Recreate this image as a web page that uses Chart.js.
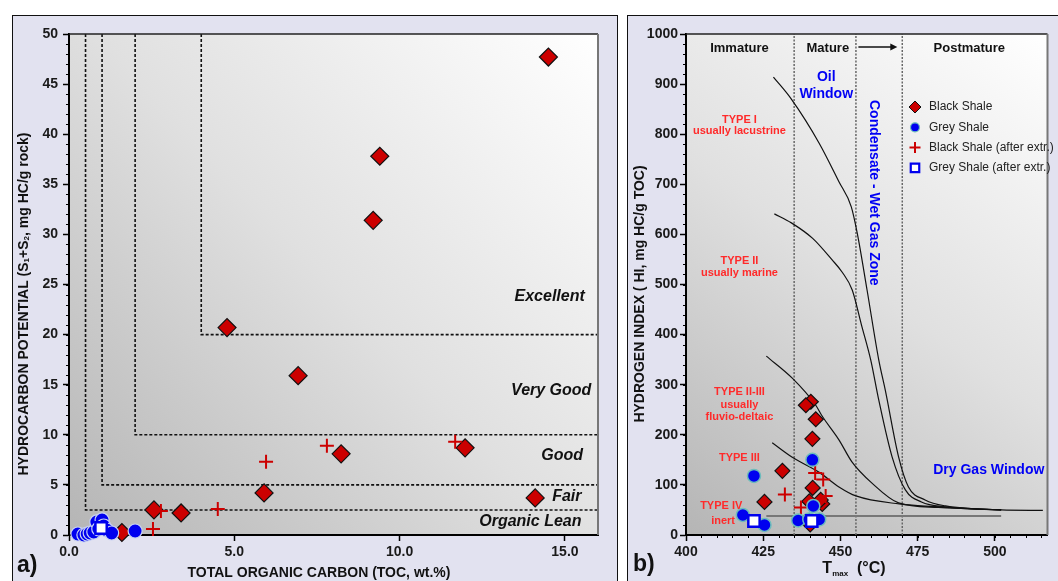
<!DOCTYPE html>
<html>
<head>
<meta charset="utf-8">
<script src="https://cdn.jsdelivr.net/npm/chart.js@4.4.1/dist/chart.umd.min.js"></script>
<style>
html, body { margin: 0; padding: 0; background: #fff; overflow: hidden; }
#pa { position: absolute; left: 12px; top: 15px; }
#pb { position: absolute; left: 627px; top: 15px; }
</style>
</head>
<body>
<canvas id="pa" width="606" height="566" style="width:606px;height:566px"></canvas>
<canvas id="pb" width="431" height="566" style="width:431px;height:566px"></canvas>
<script>
// ---------- panel a) : TOC vs S1+S2 ----------
const tocRange = [0, 16];
const potRange = [0, 50];
const blackToc = [14.5, 9.4, 9.2, 4.78, 6.93, 11.98, 8.23, 5.9, 14.1, 2.57, 3.39, 1.6];
const blackPot = [47.7, 37.8, 31.4, 20.7, 15.9, 8.7, 8.1, 4.2, 3.7, 2.5, 2.2, 0.25];
const blackExtrToc = [11.68, 7.8, 5.96, 4.5, 2.78, 2.54];
const blackExtrPot = [9.3, 8.9, 7.3, 2.6, 2.4, 0.6];
const greyToc = [0.27, 0.45, 0.55, 0.64, 0.75, 0.84, 0.9, 1.0, 1.05, 1.14, 1.29, 2.0];
const greyPot = [0.1, 0.0, 0.1, 0.2, 0.3, 1.3, 0.6, 1.5, 0.9, 0.5, 0.2, 0.4];
const greyExtrToc = [0.97];
const greyExtrPot = [0.7];
// classification limits (TOC, S1+S2)
const classToc = [0.5, 1, 2, 4];
const classPot = [2.5, 5, 10, 20];

// ---------- panel b) : Tmax vs HI ----------
const tmaxRange = [400, 517];
const hiRange = [0, 1000];
const blackTmax = [440.4, 438.8, 442.0, 440.9, 431.2, 441.0, 425.4, 439.9, 444.1, 443.6, 440.2];
const blackHi = [266, 259, 231, 192, 128, 94, 66, 67, 62, 70, 21];
const blackExtrTmax = [441.8, 444.4, 432.0, 445.2, 437.2];
const blackExtrHi = [124, 111, 81, 78, 55];
const greyTmax = [422.0, 440.9, 418.4, 425.4, 436.3, 439.9, 443.1, 441.2];
const greyHi = [118, 150, 40, 20, 29, 31, 31, 58];
const greyExtrTmax = [422.0, 440.7];
const greyExtrHi = [28, 28];
const maturityTmax = [435, 455, 470];
// kerogen type evolution curves [Tmax, HI]
const typeICurve = [[428.3, 914], [434.1, 870], [443.1, 782], [449.5, 705], [453.5, 655], [455.5, 600],
  [458.6, 489], [462.4, 349], [464.5, 289], [468.8, 156], [472, 96], [477.4, 70], [484, 58], [502, 50], [515.5, 49]];
const typeIICurve = [[428.6, 641], [434.1, 623], [441, 592], [447.3, 549], [450.5, 525], [453.8, 489],
  [456.8, 419], [459.8, 349], [462.4, 269], [466.7, 156], [471, 90], [476.2, 66], [484, 56], [502, 50]];
const typeIIIIICurve = [[426, 357], [434.4, 313], [442, 259], [444, 238], [449.5, 190], [453.7, 146],
  [460.1, 104], [468.8, 64], [481.7, 55], [502, 50]];
const typeIIICurve = [[427.9, 184], [434.4, 155], [443.1, 125], [449.5, 96], [455, 78], [469, 62], [482, 56], [502, 50]];
const typeIVLine = [[426, 38], [502, 38]];

const legendLabels = ['Black Shale', 'Grey Shale', 'Black Shale (after extr.)', 'Grey Shale (after extr.)'];

const FONT = "'Liberation Sans', Arial, sans-serif";
const toPts = (xs, ys) => xs.map((x, i) => ({ x: x, y: ys[i] }));
const pairPts = arr => arr.map(p => ({ x: p[0], y: p[1] }));

// background, frame and plot-area gradient
const plotBg = {
  id: 'plotBg',
  beforeDraw(chart) {
    const { ctx, chartArea: a, width, height } = chart;
    ctx.save();
    ctx.fillStyle = '#e2e2f0';
    ctx.fillRect(0, 0, width, height);
    ctx.strokeStyle = '#111';
    ctx.lineWidth = 1;
    ctx.strokeRect(0.5, 0.5, width + (chart.canvas.id === 'pb' ? 20 : -1), height + 20);
    const g = ctx.createLinearGradient(a.left, a.bottom, a.right, a.top);
    g.addColorStop(0, '#b5b5b5');
    g.addColorStop(0.5, '#e0e0e0');
    g.addColorStop(1, '#ffffff');
    ctx.fillStyle = g;
    ctx.fillRect(a.left, a.top, a.right - a.left, a.bottom - a.top);
    ctx.restore();
  },
  afterDraw(chart) {
    const { ctx, chartArea: a } = chart;
    ctx.save();
    ctx.strokeStyle = '#222';
    ctx.lineWidth = 1.5;
    ctx.beginPath(); ctx.moveTo(a.left, a.top); ctx.lineTo(a.right, a.top); ctx.stroke();
    ctx.strokeStyle = '#777';
    ctx.lineWidth = 2;
    ctx.beginPath(); ctx.moveTo(a.right, a.top); ctx.lineTo(a.right, a.bottom); ctx.stroke();
    ctx.restore();
  }
};

// short minor ticks
const minorTicks = {
  id: 'minorTicks',
  afterDraw(chart, args, opts) {
    const { ctx, chartArea: a } = chart;
    ctx.save();
    ctx.strokeStyle = '#000';
    ctx.lineWidth = 1;
    ['x', 'y'].forEach(id => {
      const step = opts[id];
      if (!step) return;
      const s = chart.scales[id];
      for (let v = s.min; v <= s.max + 1e-9; v += step) {
        const p = Math.round(s.getPixelForValue(v)) + 0.5;
        ctx.beginPath();
        if (id === 'y') { ctx.moveTo(a.left - 3, p); ctx.lineTo(a.left, p); }
        else { ctx.moveTo(p, a.bottom); ctx.lineTo(p, a.bottom + 3); }
        ctx.stroke();
      }
    });
    ctx.restore();
  }
};

// free text labels (data or pixel coordinates), with optional sub parts
const texts = {
  id: 'texts',
  afterDraw(chart, args, opts) {
    const ctx = chart.ctx;
    (opts.items || []).forEach(it => {
      const cx = it.px ? it.x : chart.scales.x.getPixelForValue(it.x);
      const cy = it.px ? it.y : chart.scales.y.getPixelForValue(it.y);
      const parts = it.parts || [{ t: it.text, font: it.font }];
      ctx.save();
      ctx.translate(cx, cy);
      ctx.rotate(it.rot || 0);
      ctx.fillStyle = it.color || '#111';
      ctx.textBaseline = 'middle';
      ctx.textAlign = 'left';
      let total = 0;
      const ws = parts.map(p => { ctx.font = p.font; const w = ctx.measureText(p.t).width; total += w; return w; });
      let x = it.align === 'left' ? 0 : it.align === 'right' ? -total : -total / 2;
      parts.forEach((p, i) => { ctx.font = p.font; ctx.fillText(p.t, x, p.dy || 0); x += ws[i]; });
      ctx.restore();
    });
    (opts.arrows || []).forEach(ar => {
      const x1 = chart.scales.x.getPixelForValue(ar[0]), x2 = chart.scales.x.getPixelForValue(ar[1]);
      const y = chart.scales.y.getPixelForValue(ar[2]);
      ctx.save();
      ctx.strokeStyle = '#111'; ctx.fillStyle = '#111'; ctx.lineWidth = 1.5;
      ctx.beginPath(); ctx.moveTo(x1, y); ctx.lineTo(x2 - 6, y); ctx.stroke();
      ctx.beginPath(); ctx.moveTo(x2, y); ctx.lineTo(x2 - 7, y - 3.5); ctx.lineTo(x2 - 7, y + 3.5); ctx.closePath(); ctx.fill();
      ctx.restore();
    });
  }
};

// legend drawn inside plot of panel b
const innerLegend = {
  id: 'innerLegend',
  afterDraw(chart, args, opts) {
    if (!opts.rows) return;
    const ctx = chart.ctx;
    opts.rows.forEach((r, i) => {
      const y = opts.y + i * opts.gap;
      ctx.save();
      ctx.fillStyle = r.fill; ctx.strokeStyle = r.stroke; ctx.lineWidth = r.bw;
      Chart.helpers.drawPoint(ctx, { pointStyle: r.style, radius: r.radius, borderWidth: r.bw, rotation: 0 }, opts.x, y);
      ctx.fillStyle = '#222';
      ctx.font = '12px ' + FONT;
      ctx.textBaseline = 'middle';
      ctx.fillText(r.label, opts.x + 14, y);
      ctx.restore();
    });
  }
};

const tickFont = { family: FONT, weight: 'bold', size: 14 };

function lineSet(points, opts) {
  return Object.assign({
    data: points, showLine: true, pointRadius: 0, borderColor: '#111', borderWidth: 1.2,
    fill: false, cubicInterpolationMode: 'monotone'
  }, opts);
}

// ---------- chart a ----------
const classLines = classToc.map((t, i) => lineSet(
  [{ x: t, y: potRange[1] }, { x: t, y: classPot[i] }, { x: tocRange[1], y: classPot[i] }],
  { borderDash: [3, 2], borderWidth: 1.6, borderColor: '#111', cubicInterpolationMode: 'default', tension: 0 }));

const italicBig = 'italic bold 16px ' + FONT;
new Chart(document.getElementById('pa'), {
  type: 'scatter',
  data: {
    datasets: [
      { data: toPts(greyExtrToc, greyExtrPot), pointStyle: 'rect', pointRadius: 8, backgroundColor: '#fff', borderColor: '#0000ee', borderWidth: 2.5, clip: false },
      { data: toPts(greyToc, greyPot), pointStyle: 'circle', pointRadius: 7, backgroundColor: '#0000f0', borderColor: '#c8d2f2', borderWidth: 1.2, clip: false },
      { data: toPts(blackExtrToc, blackExtrPot), pointStyle: 'cross', pointRadius: 7, borderColor: '#cc0000', borderWidth: 2, clip: false },
      { data: toPts(blackToc, blackPot), pointStyle: 'rectRot', pointRadius: 9, backgroundColor: '#cc0000', borderColor: '#111', borderWidth: 1.2, clip: false },
      ...classLines
    ]
  },
  options: {
    responsive: false,
    animation: false,
    layout: { padding: { left: 0, top: 19, right: 20, bottom: 0 } },
    plugins: {
      legend: { display: false },
      tooltip: { enabled: false },
      minorTicks: { y: 1 },
      texts: {
        items: [
          { text: 'Excellent', x: 15.6, y: 23.75, font: italicBig, align: 'right' },
          { text: 'Very Good', x: 15.8, y: 14.4, font: italicBig, align: 'right' },
          { text: 'Good', x: 15.55, y: 7.9, font: italicBig, align: 'right' },
          { text: 'Fair', x: 15.5, y: 3.8, font: italicBig, align: 'right' },
          { text: 'Organic Lean', x: 15.5, y: 1.3, font: italicBig, align: 'right' },
          { text: 'a)', px: true, x: 5, y: 551, font: 'bold 23px ' + FONT, align: 'left' },
          { text: 'TOTAL ORGANIC CARBON (TOC, wt.%)', px: true, x: 307, y: 558, font: 'bold 14px ' + FONT },
          { px: true, x: 12, y: 289, rot: -Math.PI / 2, parts: [
            { t: 'HYDROCARBON POTENTIAL (S', font: 'bold 14px ' + FONT },
            { t: '1', font: 'bold 8px ' + FONT, dy: 3 },
            { t: '+S', font: 'bold 14px ' + FONT },
            { t: '2', font: 'bold 8px ' + FONT, dy: 3 },
            { t: ', mg HC/g rock)', font: 'bold 14px ' + FONT }
          ] }
        ]
      }
    },
    scales: {
      x: {
        type: 'linear', min: tocRange[0], max: tocRange[1],
        afterFit: s => { s.height = 46; },
        border: { color: '#000', width: 2 },
        grid: { drawOnChartArea: false, tickLength: 6, tickColor: '#000', tickWidth: 1.5 },
        ticks: { stepSize: 5, includeBounds: false, autoSkip: false, padding: 3, color: '#1a1a1a', font: tickFont,
          callback: v => v.toFixed(1) }
      },
      y: {
        type: 'linear', min: potRange[0], max: potRange[1],
        afterFit: s => { s.width = 57; },
        border: { color: '#000', width: 2 },
        grid: { drawOnChartArea: false, tickLength: 6, tickColor: '#000', tickWidth: 1.5 },
        ticks: { stepSize: 5, autoSkip: false, padding: 5, color: '#1a1a1a', font: tickFont }
      }
    }
  },
  plugins: [plotBg, minorTicks, texts]
});

// ---------- chart b ----------
const maturityLines = maturityTmax.map(t => lineSet(
  [{ x: t, y: hiRange[0] }, { x: t, y: hiRange[1] }],
  { borderDash: [2, 1.5], borderWidth: 1.5, borderColor: '#666', cubicInterpolationMode: 'default', tension: 0 }));

const redF = 'bold 11px ' + FONT;
const blueF = 'bold 14px ' + FONT;
const headF = 'bold 13px ' + FONT;
const RED = '#ff2a2a', BLUE = '#0000f5';
new Chart(document.getElementById('pb'), {
  type: 'scatter',
  data: {
    datasets: [
      { data: toPts(greyExtrTmax, greyExtrHi), pointStyle: 'rect', pointRadius: 8, backgroundColor: '#fff', borderColor: '#0000ee', borderWidth: 2.5, clip: false },
      { data: toPts(greyTmax, greyHi), pointStyle: 'circle', pointRadius: 6.5, backgroundColor: '#0000f0', borderColor: '#6cbcbc', borderWidth: 1.5, clip: false },
      { data: toPts(blackExtrTmax, blackExtrHi), pointStyle: 'cross', pointRadius: 7, borderColor: '#cc0000', borderWidth: 2, clip: false },
      { data: toPts(blackTmax, blackHi), pointStyle: 'rectRot', pointRadius: 7.5, backgroundColor: '#cc0000', borderColor: '#111', borderWidth: 1.2, clip: false },
      lineSet(pairPts(typeICurve)),
      lineSet(pairPts(typeIICurve)),
      lineSet(pairPts(typeIIIIICurve)),
      lineSet(pairPts(typeIIICurve)),
      lineSet(pairPts(typeIVLine), { borderColor: '#777', borderWidth: 2 }),
      ...maturityLines
    ]
  },
  options: {
    responsive: false,
    animation: false,
    layout: { padding: { left: 0, top: 19, right: 6, bottom: 0 } },
    plugins: {
      legend: { display: false },
      tooltip: { enabled: false },
      minorTicks: { x: 5, y: 20 },
      innerLegend: {
        x: 288, y: 92, gap: 20.3,
        rows: [
          { label: legendLabels[0], style: 'rectRot', radius: 6, fill: '#cc0000', stroke: '#111', bw: 1 },
          { label: legendLabels[1], style: 'circle', radius: 4.5, fill: '#0000f0', stroke: '#6cbcbc', bw: 1.2 },
          { label: legendLabels[2], style: 'cross', radius: 5.5, fill: '#cc0000', stroke: '#cc0000', bw: 2 },
          { label: legendLabels[3], style: 'rect', radius: 6, fill: '#fff', stroke: '#0000ee', bw: 2.2 }
        ]
      },
      texts: {
        items: [
          { text: 'Immature', x: 417.3, y: 972, font: headF },
          { text: 'Mature', x: 445.9, y: 972, font: headF },
          { text: 'Postmature', x: 491.7, y: 972, font: headF },
          { text: 'Oil', x: 445.4, y: 913, font: blueF, color: BLUE },
          { text: 'Window', x: 445.4, y: 879, font: blueF, color: BLUE },
          { text: 'Condensate - Wet Gas Zone', x: 460.8, y: 683, font: blueF, color: BLUE, rot: Math.PI / 2 },
          { text: 'Dry Gas Window', x: 498, y: 130, font: blueF, color: BLUE },
          { text: 'TYPE I', x: 417.3, y: 829, font: redF, color: RED },
          { text: 'usually lacustrine', x: 417.3, y: 806, font: redF, color: RED },
          { text: 'TYPE II', x: 417.3, y: 547, font: redF, color: RED },
          { text: 'usually marine', x: 417.3, y: 523, font: redF, color: RED },
          { text: 'TYPE II-III', x: 417.3, y: 286, font: redF, color: RED },
          { text: 'usually', x: 417.3, y: 259, font: redF, color: RED },
          { text: 'fluvio-deltaic', x: 417.3, y: 235, font: redF, color: RED },
          { text: 'TYPE III', x: 417.3, y: 154, font: redF, color: RED },
          { text: 'TYPE IV', x: 411.4, y: 57, font: redF, color: RED },
          { text: 'inert', x: 412.0, y: 28, font: redF, color: RED },
          { text: 'b)', px: true, x: 6, y: 550, font: 'bold 23px ' + FONT, align: 'left' },
          { px: true, x: 227, y: 554, parts: [
            { t: 'T', font: 'bold 16px ' + FONT },
            { t: 'max', font: 'bold 8px ' + FONT, dy: 5 },
            { t: '  (°C)', font: 'bold 16px ' + FONT }
          ] },
          { text: 'HYDROGEN INDEX ( HI, mg HC/g TOC)', px: true, x: 13, y: 279, rot: -Math.PI / 2, font: 'bold 14px ' + FONT }
        ],
        arrows: [[455.8, 468.4, 974]]
      }
    },
    scales: {
      x: {
        type: 'linear', min: tmaxRange[0], max: tmaxRange[1],
        afterFit: s => { s.height = 46; },
        border: { color: '#000', width: 2 },
        grid: { drawOnChartArea: false, tickLength: 6, tickColor: '#000', tickWidth: 1.5 },
        ticks: { stepSize: 25, includeBounds: false, autoSkip: false, padding: 3, color: '#1a1a1a', font: tickFont,
          callback: v => String(v) }
      },
      y: {
        type: 'linear', min: hiRange[0], max: hiRange[1],
        afterFit: s => { s.width = 59; },
        border: { color: '#000', width: 2 },
        grid: { drawOnChartArea: false, tickLength: 6, tickColor: '#000', tickWidth: 1.5 },
        ticks: { stepSize: 100, autoSkip: false, padding: 2, color: '#1a1a1a', font: tickFont,
          callback: v => String(v) }
      }
    }
  },
  plugins: [plotBg, minorTicks, texts, innerLegend]
});
</script>
</body>
</html>
